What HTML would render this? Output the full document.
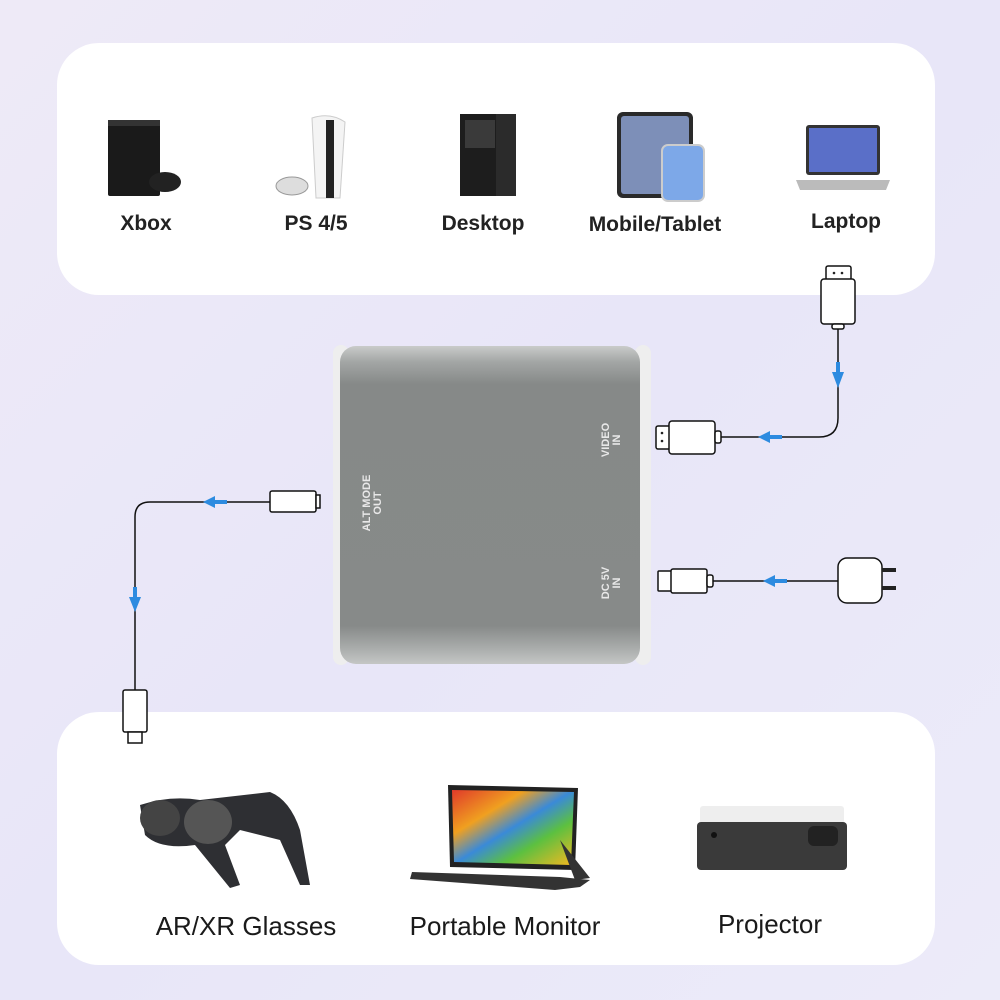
<!DOCTYPE html>
<html><head><meta charset="utf-8"><style>
html,body{margin:0;padding:0;width:1000px;height:1000px;overflow:hidden}
body{background:linear-gradient(135deg,#eeeaf7,#e8e6f8 50%,#ecebf9);font-family:"Liberation Sans",sans-serif}
</style></head><body>
<svg width="1000" height="1000" viewBox="0 0 1000 1000" xmlns="http://www.w3.org/2000/svg" font-family="Liberation Sans, sans-serif">
<defs>
<linearGradient id="dev" x1="0" y1="0" x2="0" y2="1">
<stop offset="0" stop-color="#c9cbca"/><stop offset="0.05" stop-color="#a3a6a5"/><stop offset="0.12" stop-color="#868988"/><stop offset="0.88" stop-color="#878a89"/><stop offset="0.95" stop-color="#a9acab"/><stop offset="1" stop-color="#c4c6c5"/>
</linearGradient>
<linearGradient id="scr" x1="0" y1="0" x2="1" y2="1">
<stop offset="0" stop-color="#e03a2a"/><stop offset="0.3" stop-color="#f0a020"/><stop offset="0.5" stop-color="#3a8ad8"/><stop offset="0.7" stop-color="#5cc040"/><stop offset="1" stop-color="#f5b820"/>
</linearGradient>
</defs>
<rect x="57" y="43" width="878" height="252" rx="42" fill="#fff"/>
<rect x="57" y="712" width="878" height="253" rx="42" fill="#fff"/>

<!-- Xbox -->
<rect x="108" y="120" width="52" height="76" rx="2" fill="#1a1a1a"/>
<rect x="108" y="120" width="52" height="6" fill="#333"/>
<ellipse cx="165" cy="182" rx="16" ry="10" fill="#222"/>
<!-- PS5 -->
<path d="M312 118 Q330 112 345 122 L340 198 L316 198 Z" fill="#f4f4f4" stroke="#ccc"/>
<rect x="326" y="120" width="8" height="78" fill="#222"/>
<ellipse cx="292" cy="186" rx="16" ry="9" fill="#ddd" stroke="#999"/>
<!-- Desktop -->
<rect x="460" y="114" width="56" height="82" fill="#1d1d1d"/>
<rect x="465" y="120" width="30" height="28" fill="#3a3a3a"/>
<rect x="496" y="114" width="20" height="82" fill="#2b2b2b"/>
<!-- Mobile/Tablet -->
<rect x="617" y="112" width="76" height="86" rx="6" fill="#2a2a2a"/>
<rect x="621" y="116" width="68" height="78" rx="3" fill="#7d8fb8"/>
<rect x="662" y="145" width="42" height="56" rx="6" fill="#7da8e8" stroke="#ccc" stroke-width="2"/>
<!-- Laptop -->
<rect x="806" y="125" width="74" height="50" rx="3" fill="#333"/>
<rect x="809" y="128" width="68" height="44" fill="#5a6fc8"/>
<path d="M796 180 L890 180 L886 190 L800 190 Z" fill="#bbb"/>

<g font-size="21" fill="#222" text-anchor="middle" font-weight="bold" style="font-weight:600">
<text x="146" y="230">Xbox</text>
<text x="316" y="230">PS 4/5</text>
<text x="483" y="230">Desktop</text>
<text x="655" y="231">Mobile/Tablet</text>
<text x="846" y="228">Laptop</text>
</g>

<!-- device -->
<rect x="333" y="345" width="16" height="320" rx="8" fill="#eee"/>
<rect x="635" y="345" width="16" height="320" rx="8" fill="#eee"/>
<rect x="340" y="346" width="300" height="318" rx="16" fill="url(#dev)"/>
<g fill="#e8e8e8" font-size="11" font-weight="bold" text-anchor="middle">
<text transform="translate(370,503) rotate(-90)">ALT MODE</text>
<text transform="translate(381,503) rotate(-90)">OUT</text>
<text transform="translate(609,440) rotate(-90)">VIDEO</text>
<text transform="translate(620,440) rotate(-90)">IN</text>
<text transform="translate(609,583) rotate(-90)">DC 5V</text>
<text transform="translate(620,583) rotate(-90)">IN</text>
</g>

<!-- cables -->
<g fill="#fff" stroke="#111" stroke-width="1.5">
<!-- top HDMI -->
<rect x="826" y="266" width="25" height="14" rx="2"/>
<rect x="821" y="279" width="34" height="45" rx="3"/>
<rect x="832" y="324" width="12" height="5" rx="2"/>
<path d="M838 329 V418 Q838 437 819 437 H721" fill="none"/>
<!-- left HDMI -->
<rect x="656" y="426" width="16" height="23" rx="2"/>
<rect x="669" y="421" width="46" height="33" rx="3"/>
<rect x="715" y="431" width="6" height="12" rx="2"/>
<!-- DC -->
<rect x="658" y="571" width="14" height="20" rx="1"/>
<rect x="671" y="569" width="36" height="24" rx="2"/>
<rect x="707" y="575" width="6" height="12" rx="2"/>
<path d="M713 581 H838" fill="none"/>
<rect x="838" y="558" width="44" height="45" rx="9"/>
<!-- alt out -->
<rect x="270" y="491" width="46" height="21" rx="2"/>
<rect x="316" y="495" width="4" height="13"/>
<path d="M270 502 H150 Q135 502 135 517 V690" fill="none"/>
<rect x="123" y="690" width="24" height="42" rx="2"/>
<rect x="128" y="732" width="14" height="11"/>
</g>
<g fill="#222">
<rect x="882" y="568" width="14" height="4"/><rect x="882" y="586" width="14" height="4"/>
<circle cx="834" cy="273" r="1.3"/><circle cx="842" cy="273" r="1.3"/>
<circle cx="662" cy="433" r="1.3"/><circle cx="662" cy="441" r="1.3"/>
</g>
<g fill="#2d8be0">
<path d="M832 372 L844 372 L838 388 Z"/><rect x="836" y="362" width="4" height="12"/>
<path d="M758 437 L770 431 L770 443 Z"/><rect x="768" y="435" width="14" height="4"/>
<path d="M763 581 L775 575 L775 587 Z"/><rect x="773" y="579" width="14" height="4"/>
<path d="M203 502 L215 496 L215 508 Z"/><rect x="213" y="500" width="14" height="4"/>
<path d="M129 597 L141 597 L135 612 Z"/><rect x="133" y="587" width="4" height="12"/>
</g>

<!-- glasses -->
<path d="M140 805 Q170 795 200 800 L270 792 Q290 800 300 830 L310 885 L300 885 L280 840 L240 830 L225 845 L240 885 L230 888 L195 845 Q160 850 145 835 Z" fill="#2e2f33"/>
<ellipse cx="160" cy="818" rx="20" ry="18" fill="#444"/>
<ellipse cx="208" cy="822" rx="24" ry="22" fill="#555"/>
<!-- monitor -->
<path d="M448 785 L578 788 L575 870 L450 867 Z" fill="#222"/>
<path d="M452 790 L574 792 L571 865 L454 862 Z" fill="url(#scr)"/>
<path d="M412 872 L560 877 L590 880 L580 887 L555 890 L410 879 Z" fill="#333"/>
<path d="M560 840 L590 878 L575 880 Z" fill="#333"/>
<!-- projector -->
<rect x="700" y="806" width="144" height="18" rx="3" fill="#eee"/>
<rect x="697" y="822" width="150" height="48" rx="4" fill="#3a3a3a"/>
<rect x="808" y="826" width="30" height="20" rx="6" fill="#222"/>
<circle cx="714" cy="835" r="3" fill="#111"/>

<g font-size="26" fill="#1a1a1a" text-anchor="middle">
<text x="246" y="935">AR/XR Glasses</text>
<text x="505" y="935">Portable Monitor</text>
<text x="770" y="933">Projector</text>
</g>
</svg>
</body></html>
